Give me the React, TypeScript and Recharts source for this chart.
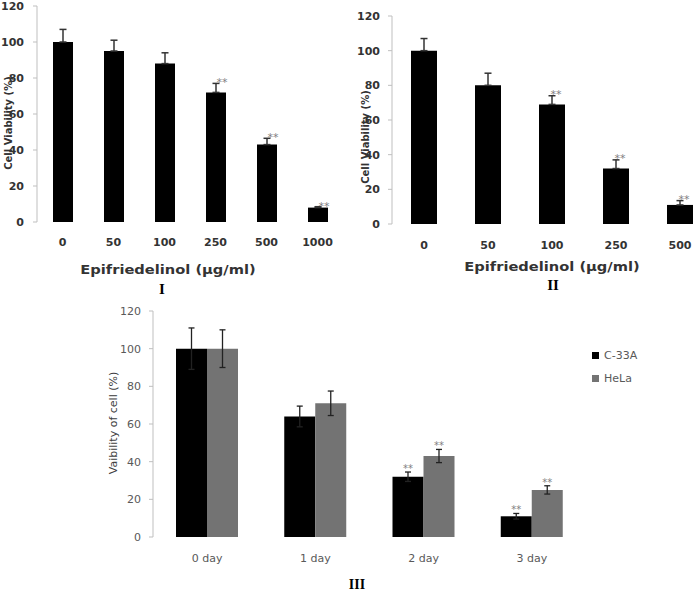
import React from 'react';
import { BarChart, Bar, XAxis, YAxis, ErrorBar, LabelList, Legend, Label } from 'recharts';

// ---------- Data ----------
const concI = ['0', '50', '100', '250', '500', '1000'];
const viabI = [100, 95, 88, 72, 43, 8];
const errI = [7, 6, 6, 5, 3.5, 0.5];
const sigI = ['', '', '', '**', '**', '**'];

const concII = ['0', '50', '100', '250', '500'];
const viabII = [100, 80, 69, 32, 11];
const errII = [7, 7, 5, 5, 2.5];
const sigII = ['', '', '**', '**', '**'];

const days = ['0 day', '1 day', '2 day', '3 day'];
const c33a = [100, 64, 32, 11];
const c33aErr = [11, 5.5, 2.5, 1.5];
const c33aSig = ['', '', '**', '**'];
const hela = [100, 71, 43, 25];
const helaErr = [10, 6.5, 3.5, 2.2];
const helaSig = ['', '', '**', '**'];
const seriesNames = ['C-33A', 'HeLa'];

const yTicks = [0, 20, 40, 60, 80, 100, 120];
const xLabelI = 'Epifriedelinol (µg/ml)';
const yLabelI = 'Cell Viability (%)';
const yLabelIII = 'Vaibility of cell (%)';
const panelTitles = ['I', 'II', 'III'];

// ---------- Tables ----------
const dataI = concI.map((name, i) => ({ name, v: viabI[i], e: [0, errI[i]], s: sigI[i] }));
const dataII = concII.map((name, i) => ({ name, v: viabII[i], e: [0, errII[i]], s: sigII[i] }));
const dataIII = days.map((name, i) => ({
  name,
  c: c33a[i],
  ce: c33aErr[i],
  cs: c33aSig[i],
  h: hela[i],
  he: helaErr[i],
  hs: helaSig[i],
}));

const boundaries = (n: number) => Array.from({ length: n + 1 }, (_, i) => i);

const AXIS = '#bfbfbf';
const DARK = '#333333';
const GRAY_TXT = '#595959';

const starLabel =
  (vals: number[], errs: number[], dx: number, gap: number, fontSize: number) => (p: any) => {
    const { x, y, width, height, value, index } = p;
    if (!value) return null;
    const v = vals[index];
    const e = errs[index];
    const top = Number(y) - (Number(height) / v) * e;
    return (
      <text
        x={Number(x) + Number(width) / 2 + dx}
        y={top - gap}
        textAnchor="middle"
        fill="#808080"
        fontSize={fontSize}
        fontFamily="DejaVu Sans"
      >
        {value}
      </text>
    );
  };

const rotLabel = (text: string, cx: number, cy: number, size: number, weight: number, color: string) => () => (
  <text
    x={cx}
    y={cy}
    transform={`rotate(-90 ${cx} ${cy})`}
    textAnchor="middle"
    dominantBaseline="central"
    fontSize={size}
    fontWeight={weight}
    fill={color}
    fontFamily="DejaVu Sans"
  >
    {text}
  </text>
);

const abs = (left: number, top: number, extra: React.CSSProperties = {}): React.CSSProperties => ({
  position: 'absolute',
  left,
  top,
  transform: 'translate(-50%, -50%)',
  whiteSpace: 'nowrap',
  lineHeight: 1,
  ...extra,
});

export default function App() {
  const tickBold = { fontSize: 11, fontWeight: 700, fill: DARK, fontFamily: 'DejaVu Sans' };
  const tickReg = { fontSize: 11, fill: GRAY_TXT, fontFamily: 'DejaVu Sans' };

  return (
    <div
      style={{
        position: 'absolute',
        left: 0,
        top: 0,
        width: 694,
        height: 593,
        overflow: 'hidden',
        background: '#fff',
      }}
    >
      {/* Panel I */}
      <div style={{ position: 'absolute', left: 0, top: 0 }}>
        <BarChart width={345} height={300} data={dataI} margin={{ top: 6, right: 2, bottom: 48, left: 0 }}>
          <XAxis
            xAxisId="grid"
            type="number"
            domain={[0, concI.length]}
            ticks={boundaries(concI.length)}
            height={0}
            tick={false}
            tickSize={4}
            axisLine={{ stroke: AXIS }}
            tickLine={{ stroke: AXIS }}
          />
          <XAxis
            xAxisId="cat"
            dataKey="name"
            height={30}
            axisLine={false}
            tickLine={false}
            tickSize={0}
            tickMargin={16}
            tick={tickBold}
            interval={0}
          />
          <YAxis
            width={37}
            domain={[0, 120]}
            ticks={yTicks}
            tickSize={4}
            tickMargin={9}
            axisLine={{ stroke: AXIS }}
            tickLine={{ stroke: AXIS }}
            tick={tickBold}
          >
            <Label content={rotLabel(yLabelI, 8, 123, 10, 700, DARK)} />
          </YAxis>
          <Bar xAxisId="cat" dataKey="v" fill="#000" barSize={20} isAnimationActive={false}>
            <ErrorBar dataKey="e" width={3.5} stroke={DARK} strokeWidth={1.5} direction="y" />
            <LabelList dataKey="s" content={starLabel(viabI, errI, 6, -3, 11)} />
          </Bar>
        </BarChart>
      </div>
      <div style={abs(168, 270, { fontFamily: 'DejaVu Sans', fontWeight: 700, fontSize: 12, color: DARK, transform: 'translate(-50%, -50%) scaleX(1.22)' })}>
        {xLabelI}
      </div>
      <div style={abs(162, 289, { fontFamily: 'Liberation Serif', fontWeight: 700, fontSize: 15, color: '#000' })}>
        {panelTitles[0]}
      </div>

      {/* Panel II */}
      <div style={{ position: 'absolute', left: 345, top: 0 }}>
        <BarChart width={370} height={300} data={dataII} margin={{ top: 16, right: 3, bottom: 46, left: 0 }}>
          <XAxis
            xAxisId="grid"
            type="number"
            domain={[0, concII.length]}
            ticks={boundaries(concII.length)}
            height={0}
            tick={false}
            tickSize={4}
            axisLine={{ stroke: AXIS }}
            tickLine={{ stroke: AXIS }}
          />
          <XAxis
            xAxisId="cat"
            dataKey="name"
            height={30}
            axisLine={false}
            tickLine={false}
            tickSize={0}
            tickMargin={17}
            tick={tickBold}
            interval={0}
          />
          <YAxis
            width={47}
            domain={[0, 120]}
            ticks={yTicks}
            tickSize={4}
            tickMargin={8}
            axisLine={{ stroke: AXIS }}
            tickLine={{ stroke: AXIS }}
            tick={tickBold}
          >
            <Label content={rotLabel(yLabelI, 20, 137, 10, 700, DARK)} />
          </YAxis>
          <Bar xAxisId="cat" dataKey="v" fill="#000" barSize={26} isAnimationActive={false}>
            <ErrorBar dataKey="e" width={3.5} stroke={DARK} strokeWidth={1.5} direction="y" />
            <LabelList dataKey="s" content={starLabel(viabII, errII, 4, -2, 11)} />
          </Bar>
        </BarChart>
      </div>
      <div style={abs(552, 267, { fontFamily: 'DejaVu Sans', fontWeight: 700, fontSize: 12, color: DARK, transform: 'translate(-50%, -50%) scaleX(1.22)' })}>
        {xLabelI}
      </div>
      <div style={abs(553, 285, { fontFamily: 'Liberation Serif', fontWeight: 700, fontSize: 15, color: '#000' })}>
        {panelTitles[1]}
      </div>

      {/* Panel III */}
      <div style={{ position: 'absolute', left: 0, top: 295 }}>
        <BarChart
          width={694}
          height={298}
          data={dataIII}
          margin={{ top: 16, right: 108, bottom: 26, left: 0 }}
          barGap={0}
        >
          <XAxis
            xAxisId="grid"
            type="number"
            domain={[0, days.length]}
            ticks={boundaries(days.length)}
            height={0}
            tick={false}
            tickSize={4}
            axisLine={{ stroke: AXIS }}
            tickLine={{ stroke: AXIS }}
          />
          <XAxis
            xAxisId="cat"
            dataKey="name"
            height={30}
            axisLine={false}
            tickLine={false}
            tickSize={0}
            tickMargin={17}
            tick={tickReg}
            interval={0}
          />
          <YAxis
            width={153}
            domain={[0, 120]}
            ticks={yTicks}
            tickSize={4}
            tickMargin={8}
            axisLine={{ stroke: AXIS }}
            tickLine={{ stroke: AXIS }}
            tick={tickReg}
          >
            <Label content={rotLabel(yLabelIII, 113, 128, 11, 400, '#404040')} />
          </YAxis>
          <Legend
            layout="vertical"
            align="center"
            verticalAlign="middle"
            wrapperStyle={{ left: 592, top: 49, width: 80 }}
            content={(props: any) => (
              <div>
                {(props.payload || []).map((it: any) => (
                  <div key={it.value} style={{ display: 'flex', alignItems: 'center', height: 23 }}>
                    <span style={{ display: 'inline-block', width: 7, height: 7, background: it.color, marginRight: 5 }} />
                    <span style={{ fontFamily: 'DejaVu Sans', fontSize: 11, color: GRAY_TXT }}>{it.value}</span>
                  </div>
                ))}
              </div>
            )}
          />
          <Bar xAxisId="cat" dataKey="c" name={seriesNames[0]} fill="#000" barSize={31} isAnimationActive={false}>
            <ErrorBar dataKey="ce" width={3} stroke="#222" strokeWidth={1.3} direction="y" />
            <LabelList dataKey="cs" content={starLabel(c33a, c33aErr, 0, 0, 10)} />
          </Bar>
          <Bar xAxisId="cat" dataKey="h" name={seriesNames[1]} fill="#737373" barSize={31} isAnimationActive={false}>
            <ErrorBar dataKey="he" width={3} stroke="#222" strokeWidth={1.3} direction="y" />
            <LabelList dataKey="hs" content={starLabel(hela, helaErr, 0, 0, 10)} />
          </Bar>
        </BarChart>
      </div>
      <div style={abs(357, 585, { fontFamily: 'Liberation Serif', fontWeight: 700, fontSize: 14, color: '#000' })}>
        {panelTitles[2]}
      </div>
    </div>
  );
}
